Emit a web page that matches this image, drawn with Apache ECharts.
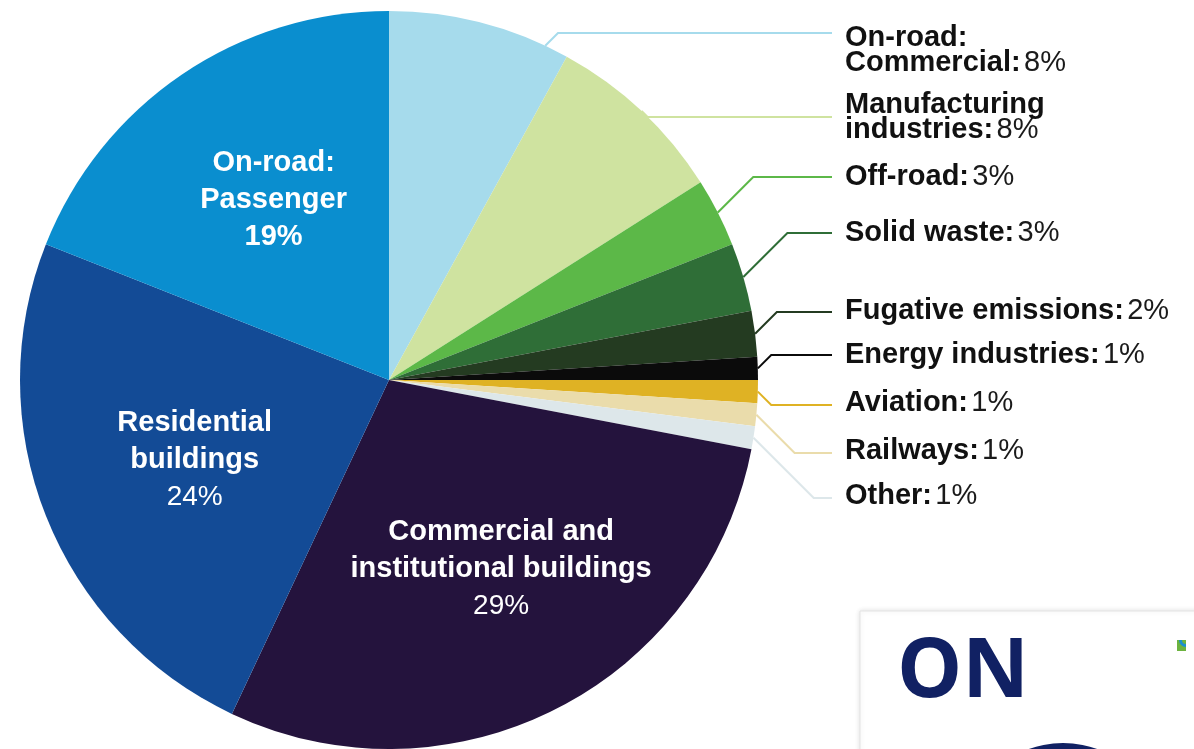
<!DOCTYPE html>
<html>
<head>
<meta charset="utf-8">
<script src="https://cdn.jsdelivr.net/npm/echarts@6/dist/echarts.min.js"></script>
<style>
  html, body { margin: 0; padding: 0; background: #ffffff; }
  #chart { width: 1194px; height: 749px; }
</style>
</head>
<body>
<div id="chart"></div>
<script>
// ---- data ----
const categories = [
  'On-road:\nCommercial',
  'Manufacturing\nindustries',
  'Off-road',
  'Solid waste',
  'Fugative emissions',
  'Energy industries',
  'Aviation',
  'Railways',
  'Other',
  'Commercial and\ninstitutional buildings',
  'Residential\nbuildings',
  'On-road:\nPassenger'
];
const values = [8, 8, 3, 3, 2, 1, 1, 1, 1, 29, 24, 19];
const sliceColors = [
  '#a6dbec', '#cfe3a0', '#5cb848', '#2f6e37', '#243b21', '#0b0b0b',
  '#dfb224', '#eadcab', '#dde7ea', '#24133d', '#134b96', '#0a8ecf'
];
const insideNames = ['Commercial and\ninstitutional buildings', 'Residential\nbuildings', 'On-road:\nPassenger'];
const boldPctInside = ['On-road:\nPassenger'];

// ---- layout (not data) ----
const CX = 389, CY = 380, R = 369;
const LABEL_X = 845, LINE_END_X = 832;
const blockY  = [50, 117, 177, 233, 311, 355, 403, 451, 496];
const leaderY = [33, 117, 177, 233, 312, 355, 405, 453, 498];
const anchorFrac = [0.87, 0.5, 0.5, 0.5, 0.5, 0.5, 0.5, 0.5, 0.5];
const insideShift = { 9: [27, 22], 10: [-20, 11], 11: [-10, -25] };

const total = values.reduce((a, b) => a + b, 0);
function anchorAngle(i) {
  let cum = 0;
  for (let k = 0; k < i; k++) cum += values[k];
  return ((cum + values[i] * anchorFrac[i]) / total) * Math.PI * 2;
}

const FONT = '"Liberation Sans", Arial, sans-serif';

const outsideRich = {
  b: { fontFamily: FONT, fontWeight: 'bold', fontSize: 29, color: '#111111', lineHeight: 25 },
  n: { fontFamily: FONT, fontWeight: 'normal', fontSize: 29, color: '#1a1a1a', lineHeight: 25 }
};
const insideRich = {
  b: { fontFamily: FONT, fontWeight: 'bold', fontSize: 29, color: '#ffffff', lineHeight: 37, align: 'center' },
  n: { fontFamily: FONT, fontWeight: 'normal', fontSize: 28, color: '#ffffff', lineHeight: 37, align: 'center' }
};

const seriesData = categories.map((name, i) => {
  const inside = insideNames.indexOf(name) >= 0;
  const item = { name: name, value: values[i], itemStyle: { color: sliceColors[i] } };
  if (inside) {
    const pctStyle = boldPctInside.indexOf(name) >= 0 ? 'b' : 'n';
    item.label = {
      position: 'inside',
      rich: insideRich,
      formatter: (p) => p.name.split('\n').map(s => '{b|' + s + '}').join('\n') + '\n{' + pctStyle + '|' + p.value + '%}'
    };
    item.labelLine = { show: false };
  } else {
    item.labelLine = { show: true, lineStyle: { color: sliceColors[i], width: 2 } };
  }
  return item;
});

const chart = echarts.init(document.getElementById('chart'), null, { renderer: 'canvas' });

chart.setOption({
  backgroundColor: '#ffffff',
  animation: false,
  series: [{
    type: 'pie',
    center: [CX, CY],
    radius: [0, R],
    startAngle: 90,
    clockwise: true,
    avoidLabelOverlap: false,
    itemStyle: { borderWidth: 0 },
    label: {
      show: true,
      position: 'outside',
      rich: outsideRich,
      formatter: (p) => {
        const lines = p.name.split('\n');
        const last = lines.pop();
        const head = lines.map(s => '{b|' + s + '}');
        head.push('{b|' + last + ':} {n|' + p.value + '%}');
        return head.join('\n');
      }
    },
    labelLine: { show: true, length: 10, length2: 10 },
    labelLayout: (params) => {
      const i = params.dataIndex;
      if (insideShift[i]) {
        return { dx: insideShift[i][0], dy: insideShift[i][1] };
      }
      const a = anchorAngle(i);
      const ax = CX + R * Math.sin(a);
      const ay = CY - R * Math.cos(a);
      const ly = leaderY[i];
      const bx = Math.min(ax + Math.abs(ly - ay), LINE_END_X - 10);
      return {
        x: LABEL_X,
        y: blockY[i],
        align: 'left',
        verticalAlign: 'middle',
        labelLinePoints: [[ax, ay], [bx, ly], [LINE_END_X, ly]]
      };
    },
    data: seriesData
  }],
  graphic: [
    {
      type: 'rect',
      shape: { x: 860, y: 611, width: 345, height: 150 },
      style: { fill: '#ffffff', stroke: '#e4e4e4', lineWidth: 1, shadowBlur: 5, shadowColor: 'rgba(0,0,0,0.12)' },
      z: 10
    },
    {
      type: 'text',
      x: 897, y: 633,
      style: { text: 'ON', fill: '#112163', font: 'bold 82px "Open Sans", "Noto Sans", sans-serif' },
      z: 11
    },
    {
      type: 'circle',
      shape: { cx: 1063, cy: 843, r: 100 },
      style: { fill: '#112163' },
      z: 11
    },
    {
      type: 'rect',
      shape: { x: 1177, y: 640, width: 9, height: 11 },
      style: { fill: '#6cb33f' },
      z: 11
    },
    {
      type: 'sector',
      shape: { cx: 1186, cy: 640, r: 7, r0: 4, startAngle: Math.PI / 2, endAngle: Math.PI },
      style: { fill: '#1a8fd0' },
      z: 12
    }
  ]
});
</script>
</body>
</html>
